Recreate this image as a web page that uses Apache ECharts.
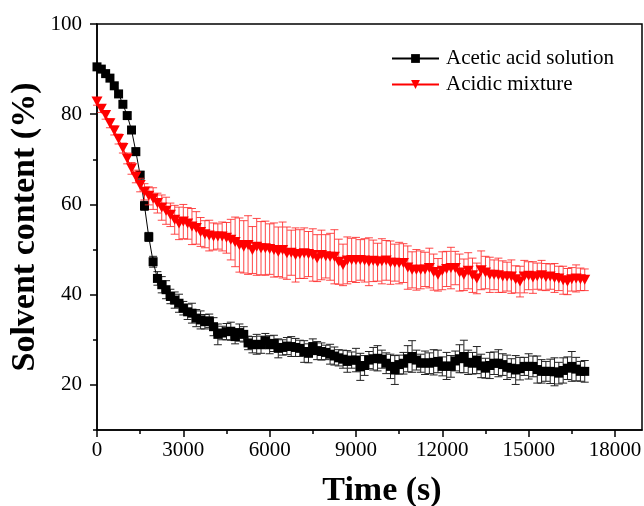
<!DOCTYPE html>
<html>
<head>
<meta charset="utf-8">
<script src="https://cdn.jsdelivr.net/npm/echarts@6/dist/echarts.min.js"></script>
<style>html,body{margin:0;padding:0;background:#fff;}#c{width:644px;height:506px;}</style>
</head>
<body>
<div id="c"></div>
<script>
const times = [0,150,300,450,600,750,900,1050,1200,1350,
1500,1650,1800,1950,2100,2250,2400,2550,2700,2850,
3000,3150,3300,3450,3600,3750,3900,4050,4200,4350,
4500,4650,4800,4950,5100,5250,5400,5550,5700,5850,
6000,6150,6300,6450,6600,6750,6900,7050,7200,7350,
7500,7650,7800,7950,8100,8250,8400,8550,8700,8850,
9000,9150,9300,9450,9600,9750,9900,10050,10200,10350,
10500,10650,10800,10950,11100,11250,11400,11550,11700,11850,
12000,12150,12300,12450,12600,12750,12900,13050,13200,13350,
13500,13650,13800,13950,14100,14250,14400,14550,14700,14850,
15000,15150,15300,15450,15600,15750,15900,16050,16200,16350,
16500,16650,16800,16950];

const aceticValues = [90.5,90.0,89.0,88.0,86.3,84.5,82.2,79.7,76.5,71.7,
66.5,59.7,52.8,47.3,43.6,42.2,41.1,39.6,38.8,38.1,
37.0,36.2,35.9,34.8,34.4,34.0,34.2,32.9,31.2,31.5,
31.8,31.9,30.7,31.6,31.2,29.3,28.9,29.0,28.9,29.8,
28.9,29.2,28.1,28.3,28.6,28.5,28.3,28.1,27.4,27.0,
28.5,27.6,27.4,27.2,26.8,26.4,26.0,25.7,25.2,25.5,
25.5,24.0,24.3,25.5,25.8,25.9,25.7,24.8,24.1,23.3,
24.5,24.8,25.8,26.3,25.5,24.8,24.9,24.8,25.0,25.2,
24.1,24.2,24.1,25.3,25.8,26.3,25.0,24.8,25.5,24.2,
23.7,24.3,24.8,24.8,24.5,23.9,23.7,23.3,23.6,24.1,
24.1,24.1,23.4,23.0,23.0,23.0,22.9,22.6,23.2,23.7,
24.1,23.5,23.0,23.0];

const aceticErrors = [0.6,0.5,0.5,0.6,0.5,0.6,0.6,0.7,0.7,0.8,0.8,
1.0,1.0,1.2,1.5,1.8,2.0,1.6,
1.8,2.0,1.5,1.7,2.2,1.9,2.0,1.6,1.5,2.0,2.3,1.5,1.8,2.0,1.6,1.9,1.7,
1.5,1.8,2.2,1.9,1.6,2.0,1.8,2.1,1.7,1.9,2.2,2.0,1.8,2.4,2.1,1.7,2.0,1.9,1.6,2.2,2.0,1.8,
2.0,2.4,1.8,2.6,3.0,2.2,1.9,2.5,2.8,2.0,2.3,2.7,3.2,2.1,2.4,2.9,3.5,2.2,2.0,2.6,2.3,2.8,2.5,2.1,3.0,2.4,2.2,3.1,3.6,2.7,2.4,3.0,2.6,2.2,2.9,2.5,3.0,2.4,2.7,2.1,3.2,2.5,2.0,2.8,2.3,3.0,2.6,2.2,2.7,3.1,2.4,2.8,2.5,3.3,2.6,2.2,2.4];

const mixtureValues = [82.8,81.2,79.8,78.0,76.4,74.5,72.5,70.2,68.0,66.2,
64.3,62.8,61.9,61.3,60.3,59.3,58.6,57.7,56.6,55.8,
56.2,55.8,55.1,54.8,53.9,53.4,53.1,52.9,52.9,52.9,
52.6,52.2,51.7,51.0,50.6,51.0,49.9,50.6,50.3,50.3,
50.1,49.9,49.5,49.9,49.2,49.3,48.8,49.0,49.2,49.0,
48.8,48.1,48.8,48.5,48.4,48.4,47.3,46.6,47.6,47.7,
47.7,47.7,47.6,47.3,47.5,47.2,47.4,47.6,47.1,47.1,
47.0,47.0,46.0,45.5,45.5,45.5,45.6,45.9,45.0,44.4,
45.3,45.7,45.9,45.9,44.9,44.4,45.3,44.3,43.6,45.4,
44.9,44.4,44.4,44.3,44.0,44.0,44.0,43.4,42.9,44.0,
44.2,43.8,44.1,44.3,43.9,44.0,43.7,43.6,43.2,42.9,
43.4,43.6,43.4,43.3];

const mixtureErrors = [0.8,0.8,0.9,1.0,1.0,1.1,1.1,1.2,1.3,1.4,1.5,
1.8,2.0,2.4,2.2,2.8,3.0,2.6,3.2,3.6,3.8,
3.5,4.0,3.6,3.2,3.0,3.4,3.0,2.8,3.2,3.4,4.5,5.5,6.0,5.8,6.5,5.2,6.3,5.9,6.0,5.6,
6.0,5.5,6.2,5.8,5.0,6.0,5.4,5.6,5.0,5.8,5.2,5.5,4.8,5.2,6.0,5.0,4.6,5.2,4.8,5.0,4.5,4.8,5.3,4.6,4.2,5.0,4.4,4.8,4.1,4.6,
4.3,4.8,4.0,4.5,4.2,3.8,4.4,4.0,3.6,4.2,3.9,4.6,3.7,4.1,3.5,4.0,3.8,3.4,4.3,3.6,3.9,3.3,3.8,3.5,3.2,3.7,3.0,3.4,3.6,3.1,3.5,2.9,3.3,3.0,2.8,3.2,2.7,3.1,2.9,2.6,3.0,2.5,2.4];

const seriesNames = ['Acetic acid solution', 'Acidic mixture'];
const xMajorTicks = [0,3000,6000,9000,12000,15000,18000];
const xMinorTicks = [1500,4500,7500,10500,13500,16500];
const yMajorTicks = [20,40,60,80,100];
const yMinorTicks = [10,30,50,70,90];

const FONT = 'Liberation Serif';

function pairs(vals){ return times.map((t,i)=>[t, vals[i]]); }
function triples(vals, errs){ return times.map((t,i)=>[t, vals[i], errs[i]]); }

function errRender(color){
  return function(params, api){
    const x = api.value(0), y = api.value(1), e = api.value(2);
    const p1 = api.coord([x, y + e]);
    const p2 = api.coord([x, y - e]);
    const w = 4;
    const style = {stroke: color, lineWidth: 1, fill: null};
    return {type:'group', children:[
      {type:'line', shape:{x1:p1[0], y1:p1[1], x2:p2[0], y2:p2[1]}, style: style},
      {type:'line', shape:{x1:p1[0]-w, y1:p1[1], x2:p1[0]+w, y2:p1[1]}, style: style},
      {type:'line', shape:{x1:p2[0]-w, y1:p2[1], x2:p2[0]+w, y2:p2[1]}, style: style}
    ]};
  };
}

const chart = echarts.init(document.getElementById('c'), null, {renderer:'canvas'});
const axisLineStyle = {color:'#000', width:1.5};
chart.setOption({
  animation: false,
  backgroundColor: '#fff',
  grid: {left:97, right:2, top:24, bottom:76, show:true, borderColor:'#000', borderWidth:1.5,
         containLabel:false, outerBoundsMode:'none'},
  legend: {
    data: seriesNames,
    orient: 'vertical',
    left: 391, top: 48, padding: 0,
    itemWidth: 47, itemHeight: 11, itemGap: 5,
    textStyle: {fontFamily: FONT, fontSize: 21, color:'#000', lineHeight: 21, padding:[0,0,0,2]}
  },
  xAxis: [{
    type:'value', min:0, max:18940,
    name:'Time (s)', nameLocation:'middle', nameGap:44,
    nameTextStyle:{fontFamily:FONT, fontSize:34, fontWeight:'bold', color:'#000', padding:[0,0,0,25]},
    axisLine:{show:true, lineStyle:axisLineStyle},
    axisTick:{show:true, inside:false, length:7, customValues:xMajorTicks, lineStyle:{color:'#000', width:1.5}},
    axisLabel:{customValues:xMajorTicks, margin:10, fontFamily:FONT, fontSize:21, color:'#000', formatter: v => String(v)},
    splitLine:{show:false}
  },{
    type:'value', min:0, max:18940, position:'bottom',
    axisLine:{show:false},
    axisTick:{show:true, inside:false, length:4, customValues:xMinorTicks, lineStyle:{color:'#000', width:1.5}},
    axisLabel:{show:false},
    splitLine:{show:false}
  }],
  yAxis: [{
    type:'value', min:10, max:100,
    name:'Solvent content (%)', nameLocation:'middle', nameGap:55, nameMoveOverlap:false,
    nameTextStyle:{fontFamily:FONT, fontSize:34, fontWeight:'bold', color:'#000'},
    axisLine:{show:true, lineStyle:axisLineStyle},
    axisTick:{show:true, inside:false, length:7, customValues:yMajorTicks, lineStyle:{color:'#000', width:1.5}},
    axisLabel:{customValues:yMajorTicks, margin:15, fontFamily:FONT, fontSize:21, color:'#000'},
    splitLine:{show:false}
  },{
    type:'value', min:10, max:100, position:'left',
    axisLine:{show:false},
    axisTick:{show:true, inside:false, length:4, customValues:yMinorTicks, lineStyle:{color:'#000', width:1.5}},
    axisLabel:{show:false},
    splitLine:{show:false}
  }],
  series: [
    {
      name:'acetic-err', type:'custom', xAxisIndex:0, yAxisIndex:0,
      data: triples(aceticValues, aceticErrors), encode:{x:0, y:1},
      renderItem: errRender('#222'), z:1, silent:true
    },
    {
      name: seriesNames[0], type:'line', xAxisIndex:0, yAxisIndex:0,
      data: pairs(aceticValues),
      symbol:'rect', symbolSize:9, showAllSymbol:true,
      lineStyle:{color:'#000', width:1},
      itemStyle:{color:'#000'},
      z:2
    },
    {
      name:'mixture-err', type:'custom', xAxisIndex:0, yAxisIndex:0,
      data: triples(mixtureValues, mixtureErrors), encode:{x:0, y:1},
      renderItem: errRender('rgba(255,40,40,0.85)'), z:3, silent:true
    },
    {
      name: seriesNames[1], type:'line', xAxisIndex:0, yAxisIndex:0,
      data: pairs(mixtureValues),
      symbol:'path://M0,0 L10,0 L5,9 Z', symbolSize:[11,10], showAllSymbol:true,
      lineStyle:{color:'#ff0000', width:1},
      itemStyle:{color:'#ff0000'},
      z:4
    }
  ]
});
</script>
</body>
</html>
